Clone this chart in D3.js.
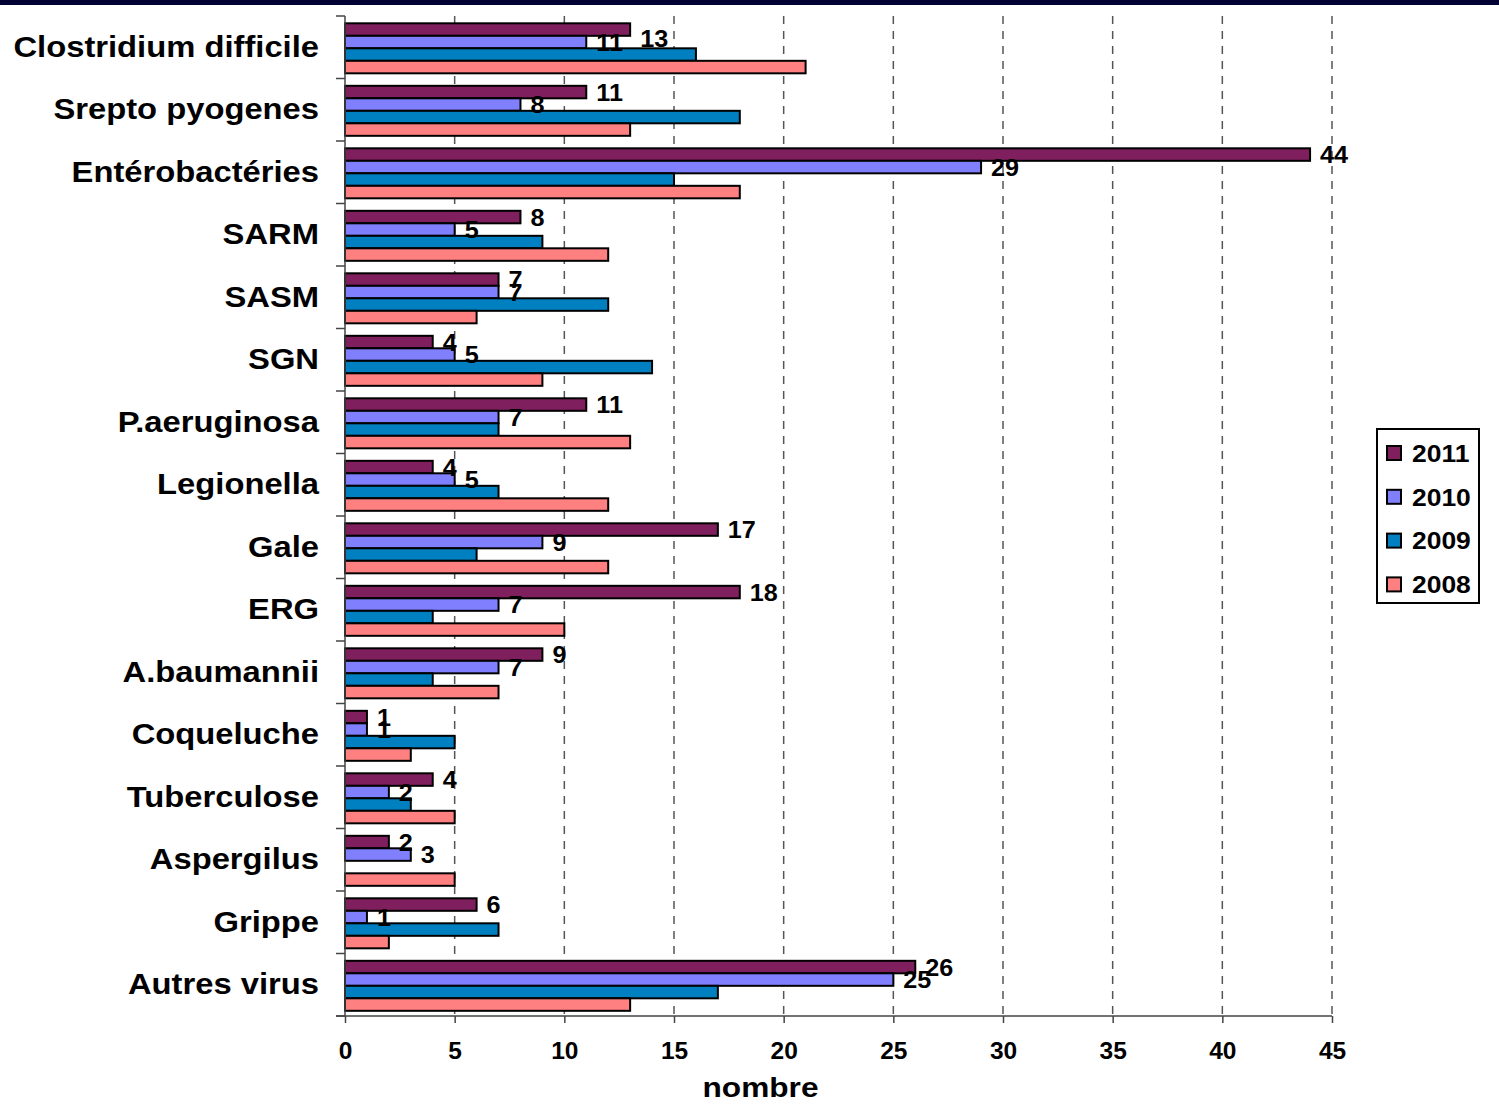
<!DOCTYPE html>
<html>
<head>
<meta charset="utf-8">
<script src="https://cdn.jsdelivr.net/npm/d3@7"></script>
<style>
  html, body { margin: 0; padding: 0; background: #fff; }
  svg { display: block; font-family: "Liberation Sans", Arial, sans-serif; font-weight: bold; }
</style>
</head>
<body>
<svg id="chart" width="1499" height="1104"></svg>
<script>
// Infections by organism, number of cases per year
const categories = [
  "Clostridium difficile", "Srepto pyogenes", "Entérobactéries", "SARM", "SASM",
  "SGN", "P.aeruginosa", "Legionella", "Gale", "ERG", "A.baumannii",
  "Coqueluche", "Tuberculose", "Aspergilus", "Grippe", "Autres virus"
];
const years = ["2011", "2010", "2009", "2008"];
const values2011 = [13, 11, 44, 8, 7, 4, 11, 4, 17, 18, 9, 1, 4, 2, 6, 26];
const values2010 = [11, 8, 29, 5, 7, 5, 7, 5, 9, 7, 7, 1, 2, 3, 1, 25];
const values2009 = [16, 18, 15, 9, 12, 14, 7, 7, 6, 4, 4, 5, 3, 0, 7, 17];
const values2008 = [21, 13, 18, 12, 6, 9, 13, 12, 12, 10, 7, 3, 5, 5, 2, 13];
const xTicks = [0, 5, 10, 15, 20, 25, 30, 35, 40, 45];
const labelledYears = ["2011", "2010"];

const seriesValues = { "2011": values2011, "2010": values2010, "2009": values2009, "2008": values2008 };
const colors = { "2011": "#801F5E", "2010": "#8080FF", "2009": "#0080C0", "2008": "#FF8080" };

const svg = d3.select("#chart");
const W = 1499, H = 1104;
const plotLeft = 345, plotRight = 1332, plotTop = 16, plotBottom = 1016;

// header band
svg.append("rect").attr("x", 0).attr("y", 0).attr("width", W).attr("height", 5).attr("fill", "#000033");

const x = d3.scaleLinear().domain([0, 45]).range([plotLeft, plotRight]);
const y0 = d3.scaleBand().domain(categories).range([plotTop, plotBottom]).padding(0);
const bw = y0.bandwidth();
const y1 = d3.scaleBand().domain(years).range([bw * 0.117, bw * 0.917]).padding(0);

// vertical dashed gridlines
svg.append("g").selectAll("line").data(xTicks.filter(t => t > 0)).join("line")
  .attr("x1", d => x(d)).attr("x2", d => x(d))
  .attr("y1", plotTop).attr("y2", plotBottom)
  .attr("stroke", "#555").attr("stroke-width", 1.5).attr("stroke-dasharray", "8,7");

// bars
const rows = svg.append("g").selectAll("g").data(categories).join("g")
  .attr("transform", d => `translate(0,${y0(d)})`);

rows.selectAll("rect")
  .data((c, i) => years.map(yr => ({ yr, v: seriesValues[yr][i] })).filter(d => d.v > 0))
  .join("rect")
  .attr("x", x(0))
  .attr("y", d => y1(d.yr))
  .attr("width", d => x(d.v) - x(0))
  .attr("height", y1.bandwidth())
  .attr("fill", d => colors[d.yr])
  .attr("stroke", "#000").attr("stroke-width", 2);

// value labels for the two most recent years
const labelNudge = { "Clostridium difficile|2011": 9 };
rows.selectAll("text")
  .data((c, i) => labelledYears.map(yr => ({ c, yr, v: seriesValues[yr][i] })))
  .join("text")
  .attr("transform", d => `translate(${x(d.v) + 10},${y1(d.yr) + y1.bandwidth() / 2 + (labelNudge[d.c + "|" + d.yr] || 0)}) scale(1.05,1)`)
  .attr("dy", "0.36em")
  .attr("font-size", 24)
  .attr("fill", "#000")
  .text(d => d.v);

// left axis: line and category separators
const axisColor = "#444";
svg.append("line").attr("x1", plotLeft).attr("x2", plotLeft).attr("y1", plotTop).attr("y2", plotBottom)
  .attr("stroke", axisColor).attr("stroke-width", 1.5);
svg.append("g").selectAll("line")
  .data(d3.range(categories.length + 1)).join("line")
  .attr("x1", plotLeft - 9).attr("x2", plotLeft)
  .attr("y1", i => plotTop + i * bw).attr("y2", i => plotTop + i * bw)
  .attr("stroke", axisColor).attr("stroke-width", 1.5);

// category labels
svg.append("g").selectAll("text").data(categories).join("text")
  .attr("transform", d => `translate(${plotLeft - 26},${y0(d) + bw / 2 - 1}) scale(1.11,1)`)
  .attr("text-anchor", "end")
  .attr("dy", "0.36em")
  .attr("font-size", 29.5)
  .attr("fill", "#000")
  .text(d => d);

// bottom axis
const xAxis = svg.append("g").attr("transform", `translate(0,${plotBottom})`)
  .call(d3.axisBottom(x).tickValues(xTicks).tickSize(7).tickPadding(19).tickSizeOuter(0));
xAxis.select(".domain").attr("stroke", axisColor).attr("stroke-width", 1.5)
  .attr("d", `M${plotLeft - 9},0H${plotRight}`);
xAxis.selectAll(".tick line").attr("stroke", axisColor).attr("stroke-width", 1.5);
xAxis.selectAll(".tick text")
  .attr("font-family", "'Liberation Sans', Arial, sans-serif")
  .attr("font-weight", "bold").attr("font-size", 24.5).attr("fill", "#000");

svg.append("text")
  .attr("transform", `translate(${(plotLeft + plotRight) / 2 - 78},1097) scale(1.15,1)`)
  .attr("text-anchor", "middle")
  .attr("font-size", 27.5)
  .attr("fill", "#000")
  .text("nombre");

// legend
const lg = svg.append("g").attr("transform", "translate(1377,429)");
lg.append("rect").attr("width", 102).attr("height", 174)
  .attr("fill", "#fff").attr("stroke", "#000").attr("stroke-width", 2);
const item = lg.selectAll("g").data(years).join("g")
  .attr("transform", (d, i) => `translate(0,${24 + i * 43.8})`);
item.append("rect").attr("x", 10).attr("y", -7).attr("width", 14).attr("height", 14)
  .attr("fill", d => colors[d]).attr("stroke", "#000").attr("stroke-width", 2);
item.append("text").attr("transform", "translate(35,0) scale(1.08,1)").attr("dy", "0.36em")
  .attr("font-size", 24.5).attr("fill", "#000")
  .text(d => d);
</script>
</body>
</html>
